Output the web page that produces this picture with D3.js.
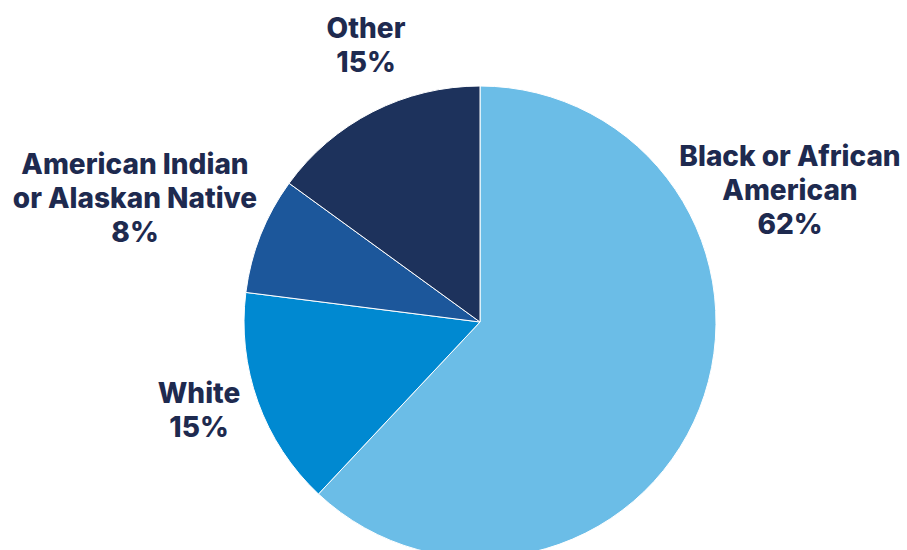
<!DOCTYPE html>
<html>
<head>
<meta charset="utf-8">
<script src="https://cdn.jsdelivr.net/npm/d3@7"></script>
<style>
  html, body { margin: 0; padding: 0; background: #fff; }
  svg { display: block; }
  .lbl { font-family: Inter, "Open Sans", sans-serif; font-weight: 800; fill: #1e2a4f; text-anchor: middle; }
</style>
</head>
<body>
<svg id="chart" width="907" height="550"></svg>
<script>
// Racial breakdown, clockwise from 12 o'clock
const categories = ["Black or African American", "White", "American Indian or Alaskan Native", "Other"];
const values = [62, 15, 8, 15];
const labelLines = [
  ["Black or African", "American"],
  ["White"],
  ["American Indian", "or Alaskan Native"],
  ["Other"]
];
const colors = ["#6bbde7", "#0089d1", "#1c579b", "#1d325c"];

// Label anchor points (centre x, first-line y) for each slice
const labelPos = [[790, 166], [199, 403], [135, 174], [366, 38]];

const svg = d3.select("#chart");
const cx = 480, cy = 322, radius = 236;

const data = categories.map((c, i) => ({ name: c, value: values[i], lines: labelLines[i], i }));

const pie = d3.pie().value(d => d.value).sort(null);
const arc = d3.arc().innerRadius(0).outerRadius(radius);

const g = svg.append("g").attr("transform", `translate(${cx},${cy})`);
g.selectAll("path")
  .data(pie(data))
  .join("path")
  .attr("d", arc)
  .attr("fill", d => colors[d.data.i])
  .attr("stroke", "#ffffff")
  .attr("stroke-width", 1);

const fs = 28, lh = 34;
data.forEach((d, i) => {
  const [x, y] = labelPos[i];
  const t = svg.append("text").attr("class", "lbl").attr("font-size", fs);
  const lines = d.lines.concat([d.value + "%"]);
  lines.forEach((ln, k) => {
    t.append("tspan").attr("x", x).attr("y", y + k * lh).text(ln);
  });
});
</script>
</body>
</html>
